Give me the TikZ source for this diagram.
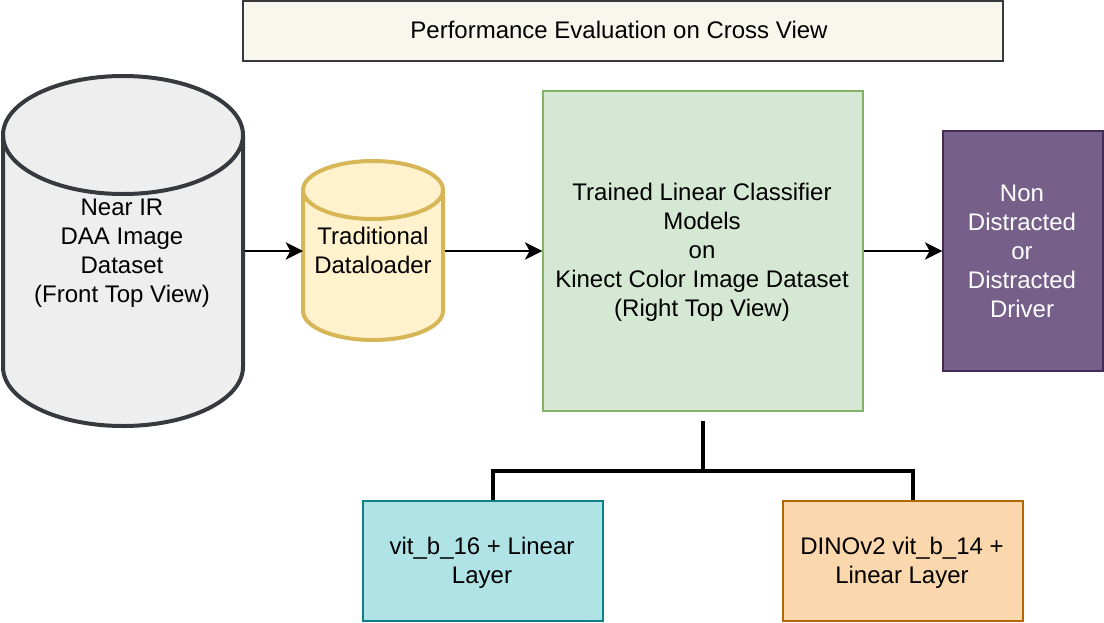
\documentclass[tikz,border=0pt]{standalone}
\usepackage{fontspec}
\setmainfont{Liberation Sans}
\usetikzlibrary{shapes.geometric,arrows.meta}
\definecolor{titlefill}{HTML}{F9F7ED}
\definecolor{titleline}{HTML}{36393D}
\definecolor{dbfill}{HTML}{EEEEEE}
\definecolor{loadfill}{HTML}{FFF2CC}
\definecolor{loadline}{HTML}{D6B656}
\definecolor{modelfill}{HTML}{D5E8D4}
\definecolor{modelline}{HTML}{82B366}
\definecolor{outfill}{HTML}{76608A}
\definecolor{outline}{HTML}{432D57}
\definecolor{vitfill}{HTML}{B0E3E6}
\definecolor{vitline}{HTML}{0E8088}
\definecolor{dinofill}{HTML}{FAD7AC}
\definecolor{dinoline}{HTML}{B46504}
\tikzset{
  x=0.75pt,y=-0.75pt,
  box/.style={draw,rectangle,minimum width=#1*0.75pt,align=center,inner sep=0pt},
  txt/.style={font=\fontsize{18pt}{21.75pt}\selectfont,align=center,inner sep=0pt},
  link/.style={-{Stealth[length=13pt,width=13pt,inset=3.5pt]},line width=1.5pt},
  branch/.style={line width=3pt}
}
\begin{document}
\begin{tikzpicture}
\useasboundingbox (0,0) rectangle (1104,622);
% title
\node[box=760,minimum height=45pt,draw=titleline,fill=titlefill,line width=1.1pt] (title) at (623,31) {};
\node[txt] (titletext) at (619,30) {Performance Evaluation on Cross View};
% big cylinder
\draw[draw=titleline,fill=dbfill,line width=3pt] (3,135) arc[start angle=180,end angle=0,x radius=120,y radius=-59] -- (243,367) arc[start angle=0,end angle=-180,x radius=120,y radius=-59] -- cycle;
\draw[draw=titleline,line width=3pt] (3,135) arc[start angle=180,end angle=360,x radius=120,y radius=-59];
\node[txt] (dataset) at (122,253) {Near IR\\DAA Image\\Dataset\\(Front Top View)};
% small cylinder
\draw[draw=loadline,fill=loadfill,line width=3pt] (303,190) arc[start angle=180,end angle=0,x radius=70,y radius=-29] -- (443,311) arc[start angle=0,end angle=-180,x radius=70,y radius=-29] -- cycle;
\draw[draw=loadline,line width=3pt] (303,190) arc[start angle=180,end angle=360,x radius=70,y radius=-29];
\node[txt] (loader) at (373,250) {Traditional\\Dataloader};
% boxes
\node[box=320,minimum height=240pt,draw=modelline,fill=modelfill,line width=1.1pt] (model) at (703,251) {};
\node[txt] (modeltext) at (702,252.5) {Trained Linear Classifier\\Models\\on\\Kinect Color Image Dataset\\(Right Top View)};
\node[box=160,minimum height=180pt,draw=outline,fill=outfill,line width=1.1pt] (output) at (1023,251) {};
\node[txt,text=white] (outputtext) at (1022,251) {Non\\Distracted\\or\\Distracted\\Driver};
\node[box=240,minimum height=90pt,draw=vitline,fill=vitfill,line width=1.1pt] (vit) at (483,561) {};
\node[txt] (vittext) at (482,563) {vit\_b\_16 + Linear\\Layer};
\node[box=240,minimum height=90pt,draw=dinoline,fill=dinofill,line width=1.1pt] (dino) at (903,561) {};
\node[txt] (dinotext) at (902,563) {DINOv2 vit\_b\_14 +\\Linear Layer};
% links
\coordinate (dbright) at (245,251);
\coordinate (lright) at (445,251);
\coordinate (lleft) at (303,251);
\coordinate (top) at (703,421);
\coordinate (mid) at (703,471);
\coordinate (vitup) at (493,500);
\coordinate (dinoup) at (913,500);
\draw[link] (dbright) -- (lleft);
\draw[link] (lright) -- (model.west);
\draw[link] (model.east) -- (output.west);
\draw[branch] (top) -- (mid);
\draw[branch] (vitup) |- (mid) -| (dinoup);
\end{tikzpicture}
\end{document}
